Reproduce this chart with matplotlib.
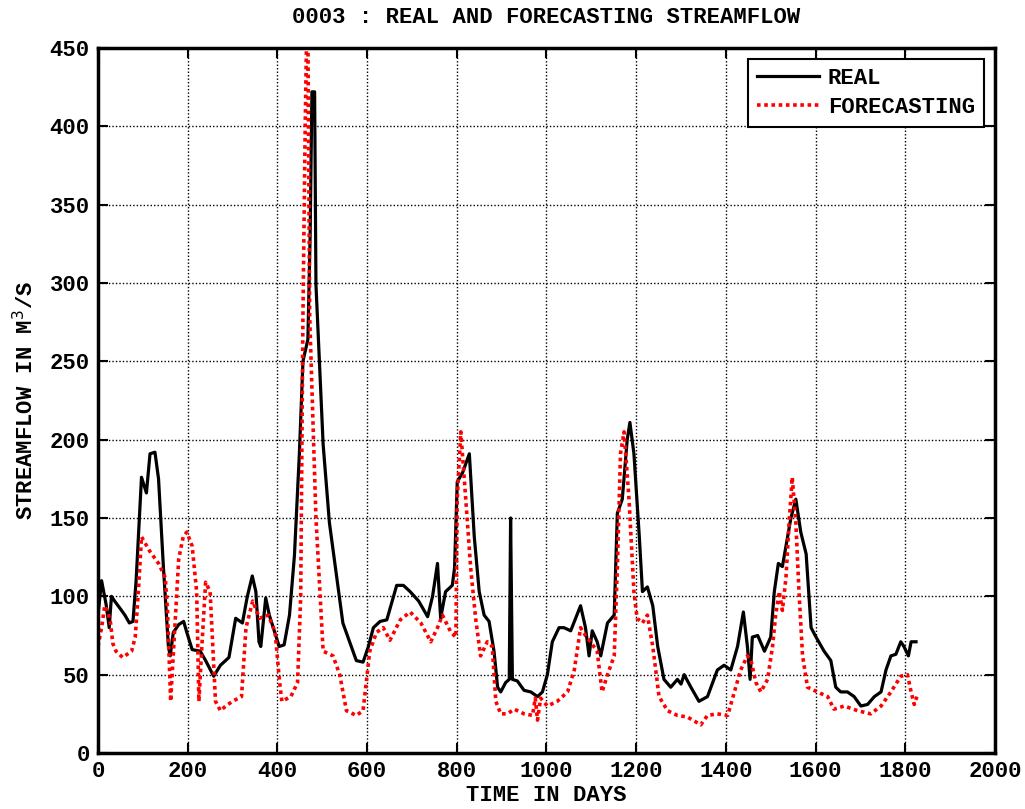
import matplotlib
matplotlib.use("Agg")
import matplotlib.pyplot as plt

real_days = [0, 8, 18, 25, 30, 37, 50, 60, 70, 78, 85, 97, 108, 116, 127, 135, 146, 157, 161, 168,
             180, 191, 198, 210, 228, 240, 258, 273, 292, 307, 322, 333, 344, 352, 359, 363, 374, 382,
             393, 404, 415, 427, 438, 449, 457, 468, 473, 477, 483, 486, 502, 516, 531, 546, 561, 576,
             591, 603, 614, 629, 644, 655, 666, 681, 696, 715, 735, 746, 757, 764, 775, 790, 795, 801,
             813, 828, 839, 850, 861, 872, 883, 891, 898, 909, 917, 920, 924, 935, 950, 965, 980, 991,
             1002, 1013, 1028, 1039, 1054, 1065, 1076, 1087, 1095, 1102, 1113, 1121, 1136, 1151, 1158,
             1169, 1180, 1186, 1195, 1207, 1214, 1225, 1237, 1248, 1262, 1277, 1292, 1300, 1307, 1322,
             1340, 1359, 1381, 1396, 1411, 1426, 1439, 1448, 1454, 1459, 1471, 1486, 1500, 1508, 1517,
             1526, 1534, 1545, 1556, 1567, 1579, 1590, 1601, 1619, 1634, 1645, 1656, 1671, 1686, 1701,
             1716, 1731, 1746, 1757, 1768, 1779, 1790, 1797, 1807, 1813, 1824]
real_vals = [88, 110, 95, 80, 100, 97, 92, 88, 83, 84, 110, 176, 166, 191, 192, 175, 118, 68, 62, 77,
             82, 84, 77, 66, 65, 59, 49, 56, 61, 86, 83, 100, 113, 103, 71, 68, 99, 88,
             78, 68, 69, 88, 126, 191, 250, 264, 330, 422, 422, 299, 197, 147, 115, 83, 71, 59,
             58, 68, 80, 84, 85, 96, 107, 107, 103, 97, 87, 100, 121, 86, 103, 107, 118, 173,
             179, 191, 138, 103, 88, 84, 65, 42, 39, 45, 47, 150, 47, 46, 40, 39, 36, 39,
             50, 71, 80, 80, 78, 86, 94, 80, 62, 78, 71, 62, 83, 88, 153,
             162, 200, 211, 191, 138, 103, 106, 94, 68, 47, 42, 47, 44, 50, 42,
             33, 36, 53, 56, 53, 68, 90, 68, 47, 74, 75, 65, 74, 103, 121,
             119, 132, 150, 162, 141, 127, 80, 74, 65, 59, 42, 39, 39, 36, 30,
             31, 36, 39, 53, 62, 63, 71, 68, 62, 71, 71]

fc_days = [0, 8, 15, 22, 28, 33, 40, 55, 75, 83, 90, 97, 115, 135, 150, 155, 162, 170, 180, 190,
           198, 210, 220, 225, 232, 240, 250, 262, 273, 285, 300, 320, 330, 345, 360, 380, 395, 405,
           410, 430, 445, 452, 457, 462, 465, 468, 472, 486, 502, 524, 539, 554, 576, 591, 606, 621,
           636, 651, 674, 696, 720, 742, 757, 768, 787, 798, 801, 809, 820, 831, 842, 853, 868, 879,
           887, 898, 913, 928, 950, 969, 975, 980, 987, 1002, 1024, 1047, 1062, 1076, 1087, 1098,
           1113, 1124, 1136, 1151, 1158, 1165, 1173, 1184, 1195, 1202, 1214, 1225, 1237, 1251, 1270,
           1292, 1314, 1344, 1359, 1381, 1404, 1419, 1433, 1448, 1456, 1467, 1478, 1493, 1504, 1511,
           1519, 1526, 1534, 1541, 1548, 1556, 1563, 1571, 1582, 1604, 1627, 1641, 1664, 1694, 1723,
           1746, 1768, 1790, 1805, 1813, 1820, 1826]
fc_vals = [68, 80, 94, 90, 83, 70, 65, 61, 65, 74, 103, 138, 129, 121, 112, 91, 33, 74, 124, 138,
           141, 132, 103, 33, 70, 109, 103, 33, 27, 30, 33, 36, 80, 97, 86, 88, 77, 45,
           33, 36, 45, 100, 279, 400, 455, 460, 279, 150, 65, 62, 50, 27, 24, 27, 65, 77,
           80, 72, 85, 90, 83, 71, 80, 88, 77, 74, 162, 205, 162, 118, 86, 62, 71, 68,
           33, 25, 25, 28, 25, 24, 35, 21, 35, 30, 33, 39, 53, 80, 75, 71,
           65, 39, 50, 62, 118, 191, 205, 162, 103, 86, 83, 88, 68, 36, 27,
           24, 23, 18, 24, 25, 24, 39, 53, 62, 59, 45, 39, 47, 68, 88,
           103, 91, 112, 147, 176, 147, 103, 62, 42, 39, 36, 28, 30, 27, 25,
           30, 39, 49, 50, 39, 31, 36]

x_ticks = list(range(0, 2001, 200))
y_ticks = list(range(0, 451, 50))

FONT = "Liberation Mono"
FS = 16

fig = plt.figure(figsize=(10.25, 8.09), dpi=100)
ax = fig.add_axes([0.0956, 0.0692, 0.8751, 0.8715])

ax.plot(real_days, real_vals, color="black", lw=2.3, ls="-", label="REAL")
ax.plot(fc_days, fc_vals, color="red", lw=2.6, ls=(0, (1, 1)), label="FORECASTING")

ax.set_xlim(0, 2000)
ax.set_ylim(0, 450)
ax.set_xticks(x_ticks)
ax.set_yticks(y_ticks)
ax.grid(True, color="black", ls=(0, (1, 1.5)), lw=1.0)
ax.tick_params(direction="in", length=7, width=1.5, top=True, right=True, pad=6)
for lab in ax.get_xticklabels() + ax.get_yticklabels():
    lab.set_fontfamily(FONT)
    lab.set_fontweight("bold")
    lab.set_fontsize(FS)
for sp in ax.spines.values():
    sp.set_linewidth(2.5)

ax.set_title("0003 : REAL AND FORECASTING STREAMFLOW", fontfamily=FONT, fontweight="bold",
             fontsize=FS, pad=18)
ax.set_xlabel("TIME IN DAYS", fontfamily=FONT, fontweight="bold", fontsize=FS, labelpad=2)
ax.set_ylabel("STREAMFLOW IN M$^3$/S", fontfamily=FONT, fontweight="bold", fontsize=FS, labelpad=8)

leg = ax.legend(loc="upper right", prop={"family": FONT, "weight": "bold", "size": FS},
                fancybox=False, framealpha=1, edgecolor="black", borderaxespad=0.5,
                handlelength=2.8, handletextpad=0.4, labelspacing=0.35)
leg.get_frame().set_linewidth(1.5)

fig.savefig("out.png", dpi=100)
